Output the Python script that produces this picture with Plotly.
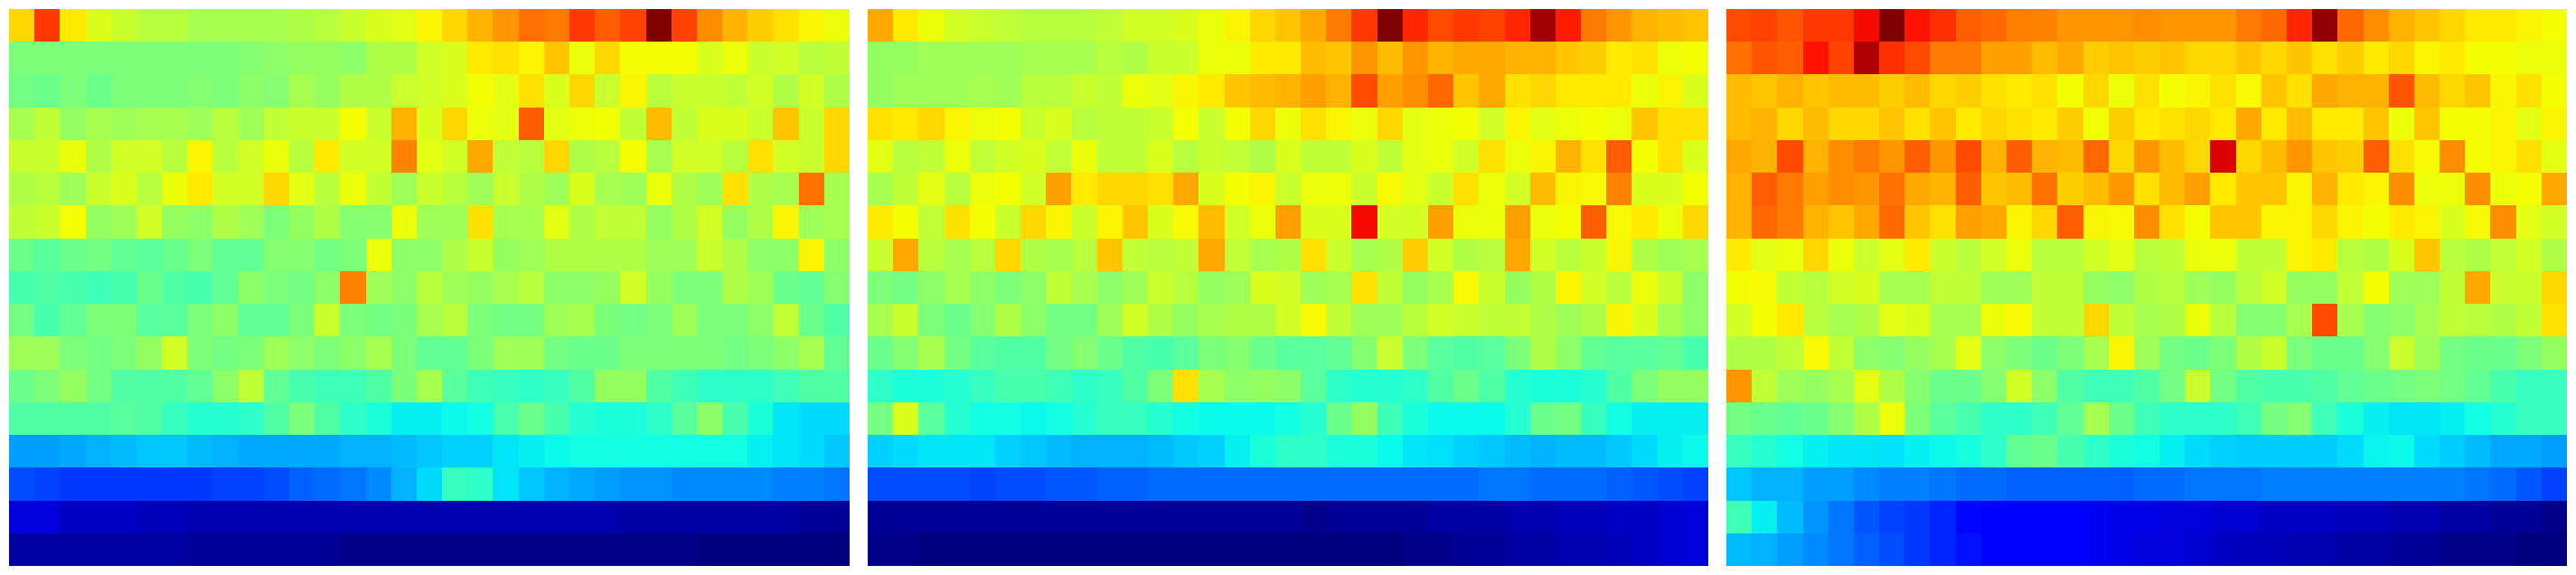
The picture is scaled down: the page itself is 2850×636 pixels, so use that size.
import plotly.graph_objects as go

# Values in percent of the colour range, top row first
left_panel = [
 [68,85,66,61,59,57,57,55,55,55,55,56,57,59,61,62,65,68,72,75,79,78,85,81,84,100,84,76,72,69,67,65,63],
 [50,50,50,50,50,50,50,50,50,51,52,53,53,52,56,56,60,61,66,67,65,70,63,68,64,64,64,61,63,59,60,57,58],
 [49,48,50,48,50,50,50,51,50,52,51,55,53,56,56,59,60,61,64,62,67,61,68,59,65,57,59,59,58,60,56,60,56],
 [55,58,53,55,54,55,55,54,57,54,58,59,59,64,59,72,61,68,63,62,81,62,63,64,58,71,58,61,61,59,70,59,68],
 [59,59,63,56,60,60,57,65,57,60,63,57,66,60,60,77,62,60,73,58,57,68,56,57,64,55,60,60,57,67,60,59,68],
 [56,57,54,59,61,57,63,66,60,60,68,62,57,63,58,54,59,57,54,59,56,54,61,55,54,63,56,54,67,56,55,79,55],
 [58,59,64,53,54,60,53,52,56,54,50,53,56,51,51,63,54,54,67,55,55,62,56,58,58,53,56,60,53,56,65,54,55],
 [48,46,48,49,47,46,48,50,47,47,51,51,49,50,63,52,52,56,59,53,54,56,56,56,56,54,54,59,56,52,52,65,52],
 [44,45,44,43,44,48,45,44,47,52,50,49,52,77,54,52,57,54,53,55,57,52,52,53,60,53,50,50,56,54,48,47,51],
 [49,44,47,50,50,46,46,50,52,47,47,50,59,50,49,50,55,57,50,49,49,54,55,50,49,50,54,50,50,52,58,48,45],
 [54,54,50,49,50,53,60,50,49,50,54,52,50,52,55,50,47,47,50,54,54,49,48,48,50,50,50,50,49,50,52,55,47],
 [48,50,53,49,45,45,45,47,52,58,47,44,43,43,45,50,55,46,43,42,41,42,45,53,53,45,43,41,41,41,43,45,45],
 [45,45,45,45,46,45,42,40,40,41,45,50,45,41,39,36,36,37,38,44,48,44,40,39,39,41,46,52,44,39,35,34,34],
 [28,28,29,30,31,32,32,31,30,29,29,29,29,30,30,31,32,33,33,35,36,37,38,38,38,38,38,38,38,36,35,34,32],
 [20,19,18,18,18,18,18,18,19,19,20,22,23,24,26,30,34,42,41,35,32,30,29,28,27,27,26,26,26,26,25,25,24],
 [8,8,6,6,6,5,5,4,4,4,4,4,4,4,4,4,4,4,4,4,4,4,4,4,3,3,3,3,3,3,3,2,2],
 [3,3,3,3,3,3,3,2,2,2,2,2,2,1,1,1,1,1,1,1,1,1,1,1,1,1,1,0,0,0,0,0,0],
]

middle_panel = [
 [73,66,63,60,59,58,57,57,57,58,60,60,61,63,65,68,70,73,78,85,100,87,83,85,84,87,97,88,78,75,72,71,70],
 [53,53,54,54,54,54,55,55,55,57,56,59,59,63,63,66,66,71,70,75,71,75,72,73,73,72,72,70,69,66,67,63,64],
 [53,54,54,54,55,54,57,57,59,58,63,62,65,66,70,71,72,74,72,83,74,76,80,70,73,67,68,66,66,66,63,65,61],
 [67,66,68,65,63,64,59,61,57,58,58,59,64,59,64,68,63,67,65,63,68,62,63,64,60,65,62,63,64,63,70,67,67],
 [62,57,58,63,58,60,61,58,63,58,58,61,57,59,58,56,61,58,58,61,58,62,63,60,67,63,65,72,67,81,64,67,61],
 [55,58,62,57,63,64,60,74,66,68,68,67,73,61,64,65,59,63,63,59,64.5,62,59,67,63,60,71,65,64.5,77,61,61,64],
 [66,64,58,67,64,59,68,65,59,65,70,61,64.5,71,60,63,74,61,61,90,60,60,74,63,63,74,63,64,81,64.5,66,63,68],
 [59,73,57,55,57,68,56,55,57,70,58,57,58,73,58,55,56,67,59,55,56,69,60,56,57,73,60,57,59,65,56,54,55],
 [50,49,52,55,52,50,52,58,55,52,54,59,57,53,54,61,60,54,55,67,58,53,55,64.5,59,53,56,65,60,57,63,59,52],
 [55,59,50,48,51,56,52,49,49,54,60,56,53,55,56,56,60,64.5,58,54,54,57,60,59,58,58,56,54,56,65,61,55,52],
 [48,51,55,49,46,45,45,49,51,48,45,44,46,50,51,48,46,46,47,51,59,50,46,45,46,50,56,52,47,46,46,47,44],
 [41,39,39,40,42,44,44,43,41,42,45,50,67,55,52,53,52,46,41,40,40,41,45,48,45,40,39,39,40,45,50,53,53],
 [49,61,46,40,38,38,37,38,40,42,42,40,38,37,37,37,38,40,48,53,43,39,37,37,37,40,48,49,42,38,36,36,36],
 [33,34,35,35,35,33,32,31,30,30,30,31,32,33,36,39,41,41,39,39,37,35,34.5,33,32,31,30,31,31,32,34,36,37],
 [20,20,20,20,19,20,20,21,21,22,22,23,23,23,23,23,23,23,23,23,23,23,23,23,24,24,23,23,23,22,21,20,19],
 [2,2,2,2,2,2,2,2,2,2,2,2,2,2,2,2,2,1,2,2,2,2,3,3,3,4,4,5,5,6,6,7,8],
 [1,1,0,0,0,0,0,0,0,0,0,0,0,0,0,0,0,0,0,0,0,1,1,2,2,3,3,4,4,5,6,7,8],
]

right_panel = [
 [83,84,82,85,85,90,100,89,86,81,80,77.5,77,75,75,75,76,75,75,75,78,80,87,98.5,80,76,72,70,68,66,66,65,64],
 [79,82,81,89,84,96,86,83,78,78,74,74,71,73,69,70,69,70,68,68,70,68,70,67,69,66,68,65,66,64,64,63,63],
 [71,70,72,70,71,71,69,71,68,69,67,66,67,64,68,63,67,64,65,67,64.5,70,67,73,72,72,82,71,68,70,65,67,64],
 [71,72,68,71,68,68,70,67,70,66,68,67,66,69,64,69,66,67,68,66,73,66,71,66,66,70,63,70,64,64,65,62,65],
 [73,72,83,72,76,78,75,81,75,83,72,81,72,71,80,68,75,71,68,92,68,71,75,70,69,81,67,64.5,76,64,65,67,62],
 [72,81,78,74,76,75,79,73,72,81,70,71,79,69,71,75,67,71,74,66,70,70,65,72,66,65,76,63,63,76,63,64,73],
 [72,80,78,72,70,73,80,70,67,74,73,65,68,81,65,64.5,76,67,64,70,70,65,65,68,65,64,66,65,61,64.5,76,62,60],
 [66,62,63,68,63,59,62,66,59,57,60,63,57,57,60,62,57,58,63,63,58,58,65,66,57,56,61,70,57,56,58,60,56],
 [64,64.5,58,57,60,61,55,55,58,58,54,54,58,58,53,52,56,57,54,53,57,60,53,53,58,64,54,54,58,73,59,59,68],
 [60,64,66,57,55,56,62,61,55,55,63,64.5,58,58,68,58,55,56,63,57,51,51,55,83,55,51,52,55,58,57,56,58,67],
 [56,56,58,64.5,58,52,51,53,55,62,52,50,48,50,55,65,54,49,48,50,56,59,50,48,48,51,59,54,49,48,48,50,53],
 [75,58,54,53,55,62,56,51,48,48,51,60,52,45,43,43,45,49,59,49,45,44,44,45,47,48,49,50,49,47,44,42,42],
 [49,48,47,48,51,56,63,50,46,44,41,41,43,47,55,48,43,41,41,41,43,49,51,43,39,36,35,35,36,38,40,42,42],
 [42,40,38,36,35,35,34.5,36,37,38.5,41,47,48,44,41,39,38,36,34,33,32.5,32.5,32.5,32.5,34,36.5,37,34,32.5,31,29,29,28],
 [32,30,30,28,28,26,25,25,24,23,23,22,22,22,22,22,23,23,24,24,24,25,25,25,25,25,25,25,25,24,23,21,19],
 [43,36,31,27,24,21,19,18,16,13,12,11,11,11,10,9,9,8,8,7,7,6,6,6,5,5,4,4,3,3,2,2,1],
 [31,30,28,26,24,22,20,18,16,14,12,11,11,11,10,9,8,8,7,6,5,5,4,4,3,3,2,2,1,1,1,0,0],
]

jet_stops = [
 [0.0,"#00007f"],[0.11,"#0000ff"],[0.125,"#0000ff"],[0.34,"#00dbff"],[0.35,"#00e5f7"],
 [0.375,"#0fffe8"],[0.5,"#7cff79"],[0.64,"#f4ff03"],[0.66,"#ffea00"],
 [0.89,"#ff1300"],[0.91,"#e80000"],[1.0,"#7f0000"],
]

panels = [left_panel, middle_panel, right_panel]
for p in panels:
    for r in p:
        assert len(r) == 33, len(r)

W, H = 2850, 636
x_spans = [(10, 940), (960, 1890), (1910, 2840)]
fig = go.Figure()
for i, (z, (x0, x1)) in enumerate(zip(panels, x_spans), start=1):
    fig.add_trace(go.Heatmap(z=z, zmin=0, zmax=100, colorscale=jet_stops, showscale=False,
                             xaxis=f"x{i}", yaxis=f"y{i}", hoverongaps=False))
    fig.update_layout({
        f"xaxis{i}": dict(domain=[x0 / W, x1 / W], visible=False, showgrid=False, zeroline=False,
                          range=[-0.5, 32.5]),
        f"yaxis{i}": dict(domain=[(H - 626) / H, (H - 10) / H], visible=False, showgrid=False,
                          zeroline=False, range=[16.5, -0.5]),
    })
fig.update_layout(width=W, height=H, margin=dict(l=0, r=0, t=0, b=0), autosize=False,
                  paper_bgcolor="white", plot_bgcolor="white", showlegend=False)
fig.write_html("out.html", config={"displayModeBar": False},
               post_script="document.body.style.margin='0';document.body.style.overflow='hidden';")
